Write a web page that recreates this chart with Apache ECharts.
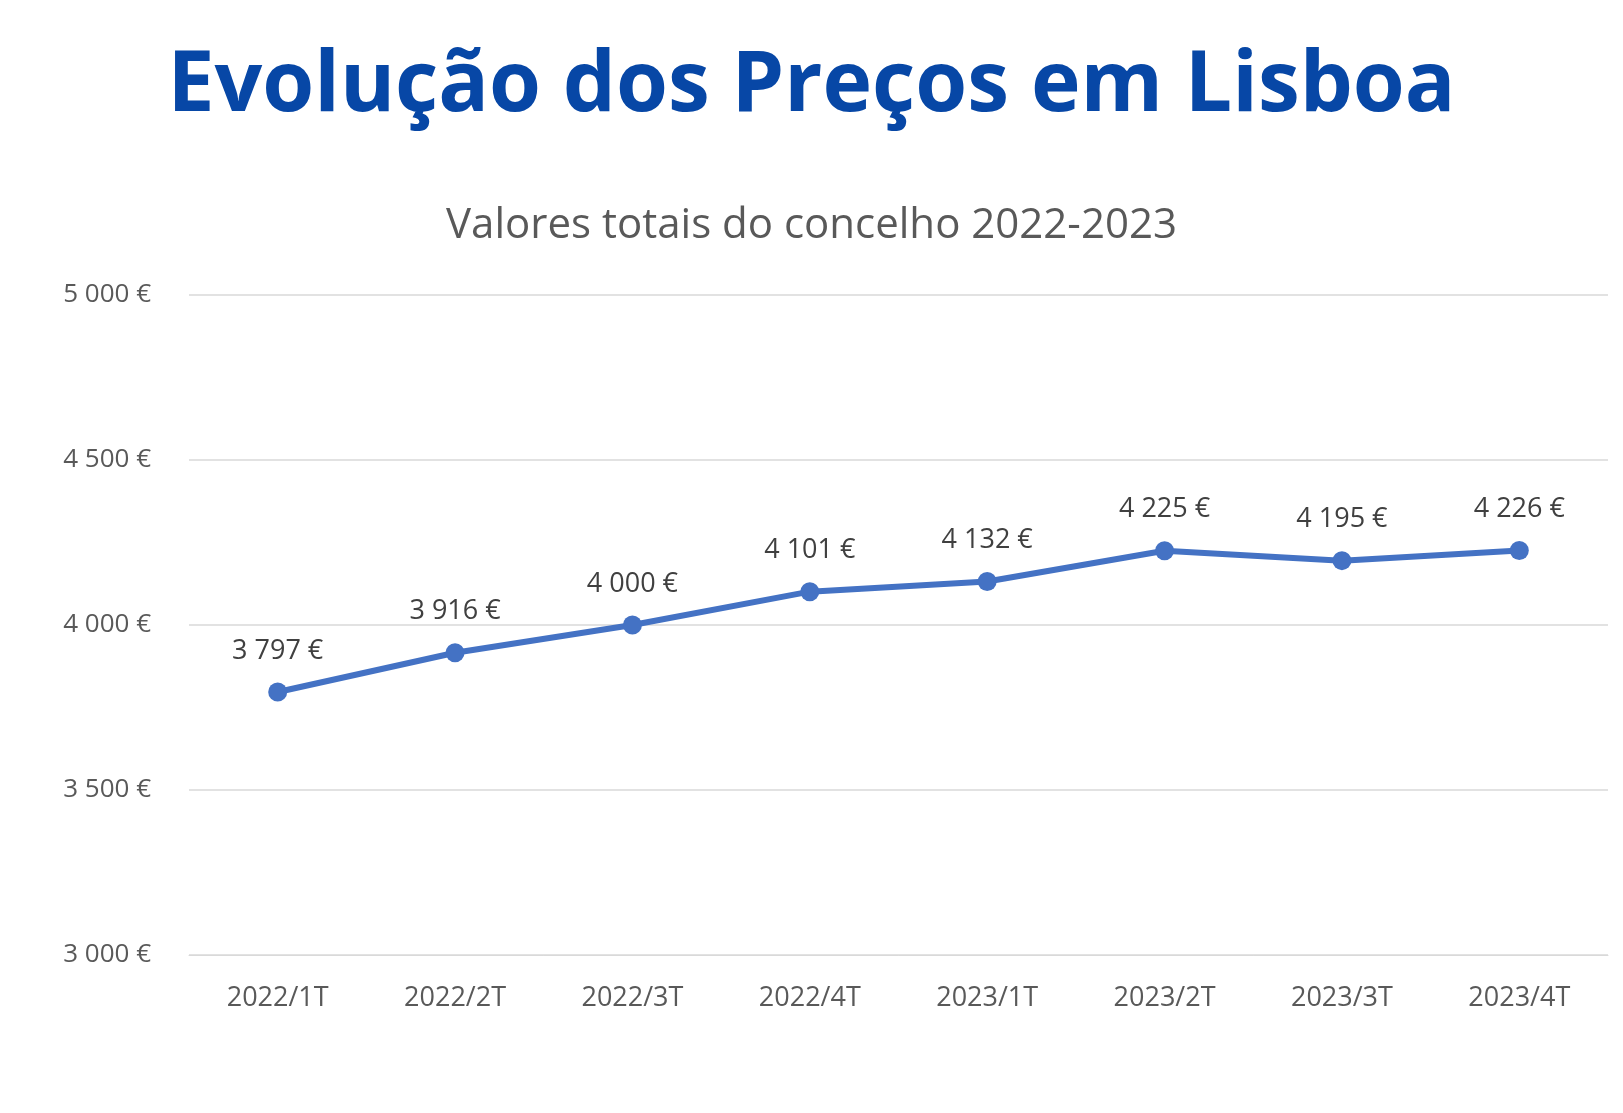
<!DOCTYPE html>
<html><head><meta charset="utf-8">
<script src="https://cdn.jsdelivr.net/npm/echarts@6/dist/echarts.min.js"></script>
<style>html,body{margin:0;background:#fff}#c{width:1623px;height:1113px}</style>
</head><body><div id="c"></div>
<script>
const categories = ['2022/1T','2022/2T','2022/3T','2022/4T','2023/1T','2023/2T','2023/3T','2023/4T'];
const values = [3797,3916,4000,4101,4132,4225,4195,4226];
const fmt = v => String(v).replace(/\B(?=(\d{3})+(?!\d))/g,' ') + ' €';
const chart = echarts.init(document.getElementById('c'));
chart.setOption({
  title:[
    {text:'Evolução dos Preços em Lisboa',left:'center',top:40,textStyle:{fontFamily:'Open Sans',fontWeight:'bold',fontSize:84,color:'#0747A6'}},
    {text:'Valores totais do concelho 2022-2023',left:'center',top:200,textStyle:{fontFamily:'Open Sans',fontWeight:'normal',fontSize:42,color:'#595959'}}
  ],
  grid:{left:189,right:15,top:295,bottom:158,containLabel:false},
  xAxis:{type:'category',data:categories,axisLine:{lineStyle:{color:'#d9d9d9'}},axisTick:{show:false},
    axisLabel:{fontFamily:'Open Sans',fontSize:27,color:'#595959',margin:30}},
  yAxis:{type:'value',min:3000,max:5000,interval:500,axisLine:{show:false},axisTick:{show:false},
    splitLine:{lineStyle:{color:'#d9d9d9',width:1.5}},
    axisLabel:{fontFamily:'Open Sans',fontSize:26,color:'#595959',margin:38,formatter:fmt}},
  series:[{type:'line',data:values,symbol:'circle',symbolSize:19,
    lineStyle:{color:'#4472C4',width:6},itemStyle:{color:'#4472C4'},
    label:{show:true,position:'top',distance:18,fontFamily:'Open Sans',fontSize:27,color:'#404040',formatter:p=>fmt(p.value)}}]
});
</script></body></html>
